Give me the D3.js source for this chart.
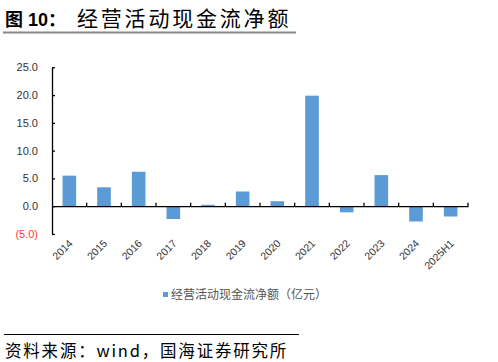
<!DOCTYPE html>
<html><head><meta charset="utf-8">
<script src="https://cdn.jsdelivr.net/npm/d3@7"></script>
<style>body{margin:0;background:#fff;}svg{display:block;}</style>
</head><body>
<script>
const categories = ["2014","2015","2016","2017","2018","2019","2020","2021","2022","2023","2024","2025H1"];
const values = [5.5, 3.4, 6.2, -2.3, 0.25, 2.65, 0.9, 19.9, -1.1, 5.6, -2.75, -1.85];
const yTicks = [-5, 0, 5, 10, 15, 20, 25];
const seriesName = "经营活动现金流净额（亿元）";
const titlePrefix = "图 10：";
const titleText = "经营活动现金流净额";
const sourceText = "资料来源：wind，国海证券研究所";

const W = 498, H = 362;
const svg = d3.select("body").append("svg").attr("width", W).attr("height", H);
const cjk = "'Noto Sans CJK SC', sans-serif";
const latin = "'Liberation Sans', Arial, sans-serif";

const t = svg.append("text").attr("y", 26).attr("fill", "#000");
t.append("tspan").attr("x", 5).attr("font-family", "'Liberation Sans', 'Noto Sans CJK SC', sans-serif")
  .attr("font-weight", "bold").attr("font-size", 18).text(titlePrefix);
t.append("tspan").attr("x", 77).attr("font-family", cjk).attr("font-weight", "normal")
  .attr("font-size", 21).attr("letter-spacing", 2.8).text(titleText);
svg.append("line").attr("x1", 3).attr("x2", 296).attr("y1", 32.5).attr("y2", 32.5)
  .attr("stroke", "#888").attr("stroke-width", 2);

const xb = d3.scaleBand().domain(categories).range([52, 468]);
const y = d3.scaleLinear().domain([-5, 25]).range([234, 67.3]);

const g = svg.append("g");
g.selectAll("rect.bar").data(values).join("rect").attr("class", "bar")
  .attr("x", (d, i) => xb(categories[i]) + xb.bandwidth() / 2 - 6.8)
  .attr("width", 13.6)
  .attr("y", d => y(Math.max(0, d)))
  .attr("height", d => Math.abs(y(d) - y(0)))
  .attr("fill", "#5B9BD5");

// y axis
const yAxis = d3.axisLeft(y).tickValues(yTicks).tickSize(0).tickPadding(14)
  .tickFormat(d => d < 0 ? "(" + d3.format(".1f")(-d) + ")" : d3.format(".1f")(d));
const ya = svg.append("g").attr("transform", "translate(52,0)").call(yAxis);
ya.select(".domain").attr("stroke", "#000").attr("stroke-width", 1.3);
ya.selectAll(".tick line").attr("x2", 3).attr("stroke", "#000").attr("stroke-width", 1.3);
ya.selectAll(".tick text").attr("font-family", latin).attr("font-size", 11)
  .attr("fill", d => d < 0 ? "#ff3b3b" : "#333");

// x axis at zero
const xAxis = d3.axisBottom(xb).tickSize(0).tickFormat("");
const xa = svg.append("g").attr("transform", `translate(0,${y(0)})`).call(xAxis);
xa.select(".domain").attr("stroke", "#000").attr("stroke-width", 1.3);
xa.selectAll(".tick").remove();
const bounds = categories.map(c => xb(c)).concat([468]).slice(1);
xa.selectAll("line.tk").data(bounds).join("line").attr("class", "tk")
  .attr("x1", d => d).attr("x2", d => d).attr("y1", 0).attr("y2", -3.5)
  .attr("stroke", "#000").attr("stroke-width", 1.3);

// x labels
svg.selectAll("text.xl").data(categories).join("text").attr("class", "xl")
  .attr("transform", d => `translate(${xb(d) + xb.bandwidth() / 2 + 4},${244}) rotate(-45)`)
  .attr("text-anchor", "end").attr("font-family", latin).attr("font-size", 10.5)
  .attr("fill", "#333").text(d => d);

// legend
svg.append("rect").attr("x", 163).attr("y", 292).attr("width", 5).attr("height", 5).attr("fill", "#5B9BD5");
svg.append("text").attr("x", 171).attr("y", 299).attr("font-family", cjk).attr("font-size", 12)
  .attr("fill", "#555").text(seriesName);

// bottom
svg.append("line").attr("x1", 4).attr("x2", 299).attr("y1", 334.5).attr("y2", 334.5)
  .attr("stroke", "#000").attr("stroke-width", 1);
svg.append("text").attr("x", 5).attr("y", 357).attr("font-family", cjk).attr("font-size", 16.5)
  .attr("letter-spacing", 1.8).attr("fill", "#000").text(sourceText);
</script>
</body></html>
